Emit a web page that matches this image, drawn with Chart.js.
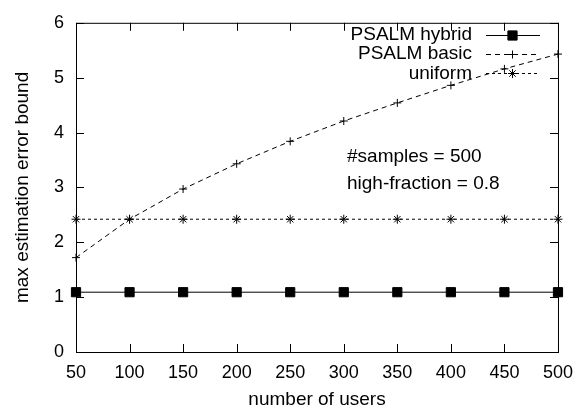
<!DOCTYPE html>
<html>
<head>
<meta charset="utf-8">
<script src="https://cdn.jsdelivr.net/npm/chart.js@4"></script>
<style>
  html, body { margin: 0; padding: 0; background: #fff; }
</style>
</head>
<body>
<canvas id="chart" width="583" height="414"></canvas>
<script>
// values
const users = [50, 100, 150, 200, 250, 300, 350, 400, 450, 500];
const psalmHybrid = [1.09, 1.09, 1.09, 1.09, 1.09, 1.09, 1.09, 1.09, 1.09, 1.09];
const psalmBasic = [1.72, 2.42, 2.97, 3.43, 3.84, 4.21, 4.54, 4.86, 5.16, 5.43];
const uniform = [2.42, 2.42, 2.42, 2.42, 2.42, 2.42, 2.42, 2.42, 2.42, 2.42];
const notes = ["#samples = 500", "high-fraction = 0.8"];

const FONT = "'Liberation Sans', Arial, Helvetica, sans-serif";
const INK = "#000";

function pts(values) {
  return users.map((u, i) => ({ x: u, y: values[i] }));
}

// gnuplot look: full border, inward ticks on all four sides
const frame = {
  id: "frame",
  beforeDatasetsDraw(chart) {
    const { ctx, chartArea: a, scales } = chart;
    ctx.save();
    ctx.strokeStyle = INK;
    ctx.lineWidth = 1;
    ctx.strokeRect(a.left + 0.5, a.top + 0.5, a.right - a.left, a.bottom - a.top);
    const len = 8;
    ctx.beginPath();
    scales.x.ticks.forEach((t) => {
      const px = Math.round(scales.x.getPixelForValue(t.value)) + 0.5;
      ctx.moveTo(px, a.bottom); ctx.lineTo(px, a.bottom - len);
      ctx.moveTo(px, a.top); ctx.lineTo(px, a.top + len);
    });
    scales.y.ticks.forEach((t) => {
      const py = Math.round(scales.y.getPixelForValue(t.value)) + 0.5;
      ctx.moveTo(a.left, py); ctx.lineTo(a.left + len, py);
      ctx.moveTo(a.right, py); ctx.lineTo(a.right - len, py);
    });
    ctx.stroke();
    ctx.restore();
  },
  afterDraw(chart) {
    const { ctx } = chart;
    ctx.save();
    ctx.font = `19px ${FONT}`;
    ctx.fillStyle = INK;
    ctx.strokeStyle = INK;
    ctx.textBaseline = "middle";

    // key, top right
    chart.data.datasets.forEach((ds, i) => {
      const y = 35 + i * 19.2;
      ctx.textAlign = "right";
      ctx.fillText(ds.label, 472, y);
      ctx.lineWidth = 1;
      ctx.setLineDash(ds.borderDash || []);
      ctx.beginPath();
      ctx.moveTo(486, Math.round(y) + 0.5);
      ctx.lineTo(540, Math.round(y) + 0.5);
      ctx.stroke();
      ctx.setLineDash([]);
      Chart.helpers.drawPoint(ctx, {
        pointStyle: ds.pointStyle,
        radius: ds.pointRadius,
        borderWidth: 1,
        rotation: 0,
      }, 512.5, Math.round(y) + 0.5);
    });

    // labels
    ctx.textAlign = "left";
    ctx.fillText(notes[0], 347, 157);
    ctx.fillText(notes[1], 347, 184);
    ctx.restore();
  },
};

const common = {
  borderColor: INK,
  backgroundColor: INK,
  pointBorderColor: INK,
  pointBackgroundColor: INK,
  borderWidth: 1,
  pointBorderWidth: 1,
  tension: 0,
  clip: false,
};

new Chart(document.getElementById("chart"), {
  type: "line",
  data: {
    datasets: [
      { ...common, label: "PSALM hybrid", data: pts(psalmHybrid), pointStyle: "rect", pointRadius: 6.5 },
      { ...common, label: "PSALM basic", data: pts(psalmBasic), pointStyle: "cross", pointRadius: 4, borderDash: [5, 4] },
      { ...common, label: "uniform", data: pts(uniform), pointStyle: "star", pointRadius: 4.5, borderDash: [3, 3] },
    ],
  },
  options: {
    responsive: false,
    animation: false,
    events: [],
    layout: { padding: { top: 15, right: 20, left: 0, bottom: 0 } },
    plugins: { legend: { display: false }, tooltip: { enabled: false } },
    scales: {
      x: {
        type: "linear",
        min: 50,
        max: 500,
        ticks: { stepSize: 50, padding: 10, color: INK, font: { family: FONT, size: 18 }, maxRotation: 0 },
        grid: { display: false, drawTicks: false },
        border: { display: false },
        title: { display: true, text: "number of users", color: INK, font: { family: FONT, size: 19 }, padding: { top: 3, bottom: 3 } },
        afterFit(scale) { scale.height = 62; },
      },
      y: {
        min: 0,
        max: 6,
        ticks: { stepSize: 1, padding: 12, color: INK, font: { family: FONT, size: 18 } },
        grid: { display: false, drawTicks: false },
        border: { display: false },
        title: { display: true, text: "max estimation error bound", color: INK, font: { family: FONT, size: 19 }, padding: { top: 11, bottom: 4 } },
        afterFit(scale) { scale.width = 76; },
      },
    },
  },
  plugins: [frame],
});
</script>
</body>
</html>
